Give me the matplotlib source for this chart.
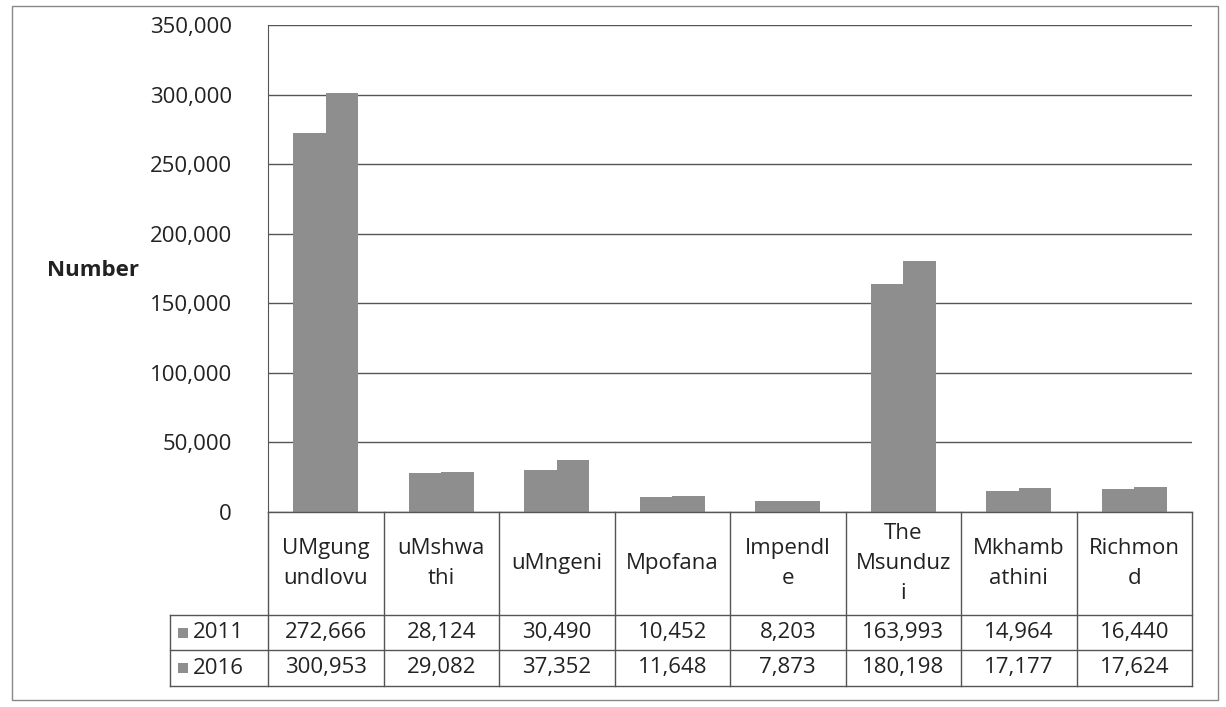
import matplotlib.pyplot as plt
from matplotlib.lines import Line2D
from matplotlib.patches import Rectangle

plt.rcParams['font.family'] = ['Open Sans', 'DejaVu Sans']

# Population by local municipality
categories = ['UMgung\nundlovu', 'uMshwa\nthi', 'uMngeni', 'Mpofana', 'Impendl\ne',
              'The\nMsunduz\ni', 'Mkhamb\nathini', 'Richmon\nd']
years = ['2011', '2016']
pop_2011 = [272666, 28124, 30490, 10452, 8203, 163993, 14964, 16440]
pop_2016 = [300953, 29082, 37352, 11648, 7873, 180198, 17177, 17624]
yticks = [0, 50000, 100000, 150000, 200000, 250000, 300000, 350000]

W, H = 1226, 707
fig = plt.figure(figsize=(W / 100, H / 100), dpi=100)

# pixel helpers (origin top-left)
def fx(px):
    return px / W

def fy(py):
    return 1 - py / H

x0, x1 = 268, 1192
y_top, y_bot = 25, 512
ax = fig.add_axes([fx(x0), fy(y_bot), fx(x1) - fx(x0), fy(y_top) - fy(y_bot)])

bar_color = '#8e8e8e'
fs = 16
txt = '#222222'
w = 0.28
xs = list(range(len(categories)))
ax.bar([x - w / 2 for x in xs], pop_2011, width=w, color=bar_color,
       edgecolor='none', zorder=3)
ax.bar([x + w / 2 for x in xs], pop_2016, width=w, color=bar_color,
       edgecolor='none', zorder=3)

ax.set_xlim(-0.5, len(categories) - 0.5)
ax.set_ylim(0, 350000)
ax.set_yticks(yticks)
ax.set_yticklabels([f'{v:,}' for v in yticks], fontsize=fs, color=txt)
ax.tick_params(axis='y', length=0, pad=26)
ax.set_xticks([])
ax.grid(axis='y', color='#555555', linewidth=1.0, zorder=0)
for s in ['top', 'right', 'bottom']:
    ax.spines[s].set_visible(False)
ax.spines['left'].set_color('#555555')

fig.text(fx(93), fy(270), 'Number', fontsize=fs, fontweight='bold',
         ha='center', va='center', color=txt)

# data table under the plot
line_kw = dict(color='#555555', linewidth=1.0, transform=fig.transFigure)
col_w = (x1 - x0) / len(categories)
col_edges = [x0 + i * col_w for i in range(len(categories) + 1)]
row_cat, row_a, row_b, row_end = 512, 615, 650, 686
leg_left = 170

fig.add_artist(Line2D([fx(x0), fx(x1)], [fy(row_cat)] * 2, **line_kw))
for yy in (row_a, row_b, row_end):
    fig.add_artist(Line2D([fx(leg_left), fx(x1)], [fy(yy)] * 2, **line_kw))
for xe in col_edges:
    fig.add_artist(Line2D([fx(xe)] * 2, [fy(row_cat), fy(row_end)], **line_kw))
fig.add_artist(Line2D([fx(leg_left)] * 2, [fy(row_a), fy(row_end)], **line_kw))

for i, cat in enumerate(categories):
    cx = (col_edges[i] + col_edges[i + 1]) / 2
    fig.text(fx(cx), fy((row_cat + row_a) / 2), cat, fontsize=fs, ha='center',
             va='center', linespacing=1.55, color=txt)
    fig.text(fx(cx), fy((row_a + row_b) / 2), f'{pop_2011[i]:,}', fontsize=fs,
             ha='center', va='center', color=txt)
    fig.text(fx(cx), fy((row_b + row_end) / 2), f'{pop_2016[i]:,}', fontsize=fs,
             ha='center', va='center', color=txt)

for yr, (ra, rb) in zip(years, [(row_a, row_b), (row_b, row_end)]):
    cy = (ra + rb) / 2
    fig.add_artist(Rectangle((fx(178), fy(cy + 5)), fx(10), fy(cy - 5) - fy(cy + 5),
                             facecolor=bar_color, edgecolor='none',
                             transform=fig.transFigure))
    fig.text(fx(193), fy(cy), yr, fontsize=fs, ha='left', va='center', color=txt)

# outer chart border
fig.add_artist(Rectangle((fx(12), fy(700)), fx(1218) - fx(12), fy(6) - fy(700),
                         facecolor='none', edgecolor='#888888', linewidth=1.0,
                         transform=fig.transFigure))

fig.savefig('out.png', dpi=100)
